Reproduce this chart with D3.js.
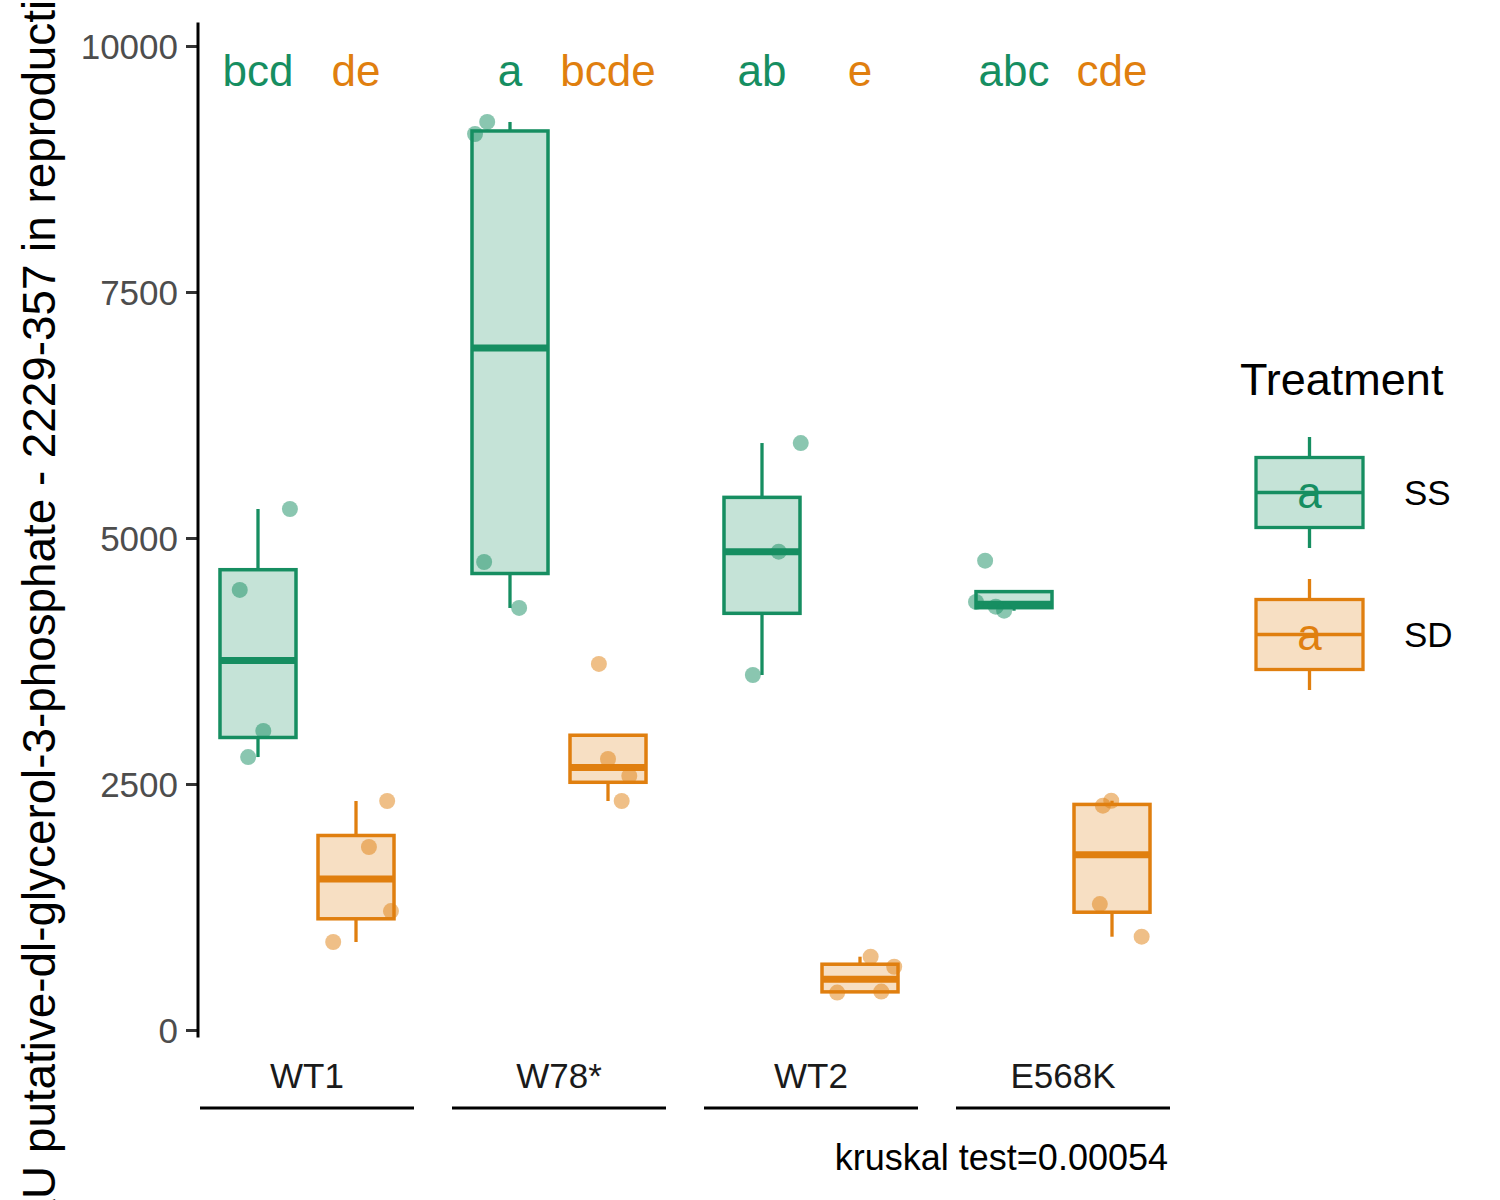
<!DOCTYPE html>
<html><head><meta charset="utf-8">
<script src="https://cdn.jsdelivr.net/npm/d3@7"></script>
<style>body{margin:0;background:#fff} text{font-family:"Liberation Sans",Arial,Helvetica,sans-serif}</style>
</head><body><svg id="c" width="1500" height="1200"></svg>
<script>
// ---- data ----
const groups = ["WT1", "W78*", "WT2", "E568K"];
const treatments = ["SS", "SD"];
const valuesSS = [[5295, 4472, 3039, 2774], [9228, 9106, 4756, 4289], [5965, 4861, 3608], [4770, 4350, 4302, 4261]];
const valuesSD = [[2327, 1860, 1209, 894], [3720, 2754, 2581, 2327], [745, 643, 380, 390], [2330, 2280, 1280, 948]];
const jitterSS = [[0.42, -0.24, 0.07, -0.13], [-0.30, -0.46, -0.34, 0.12], [0.51, 0.22, -0.12], [-0.38, -0.50, -0.24, -0.13]];
const jitterSD = [[0.41, 0.17, 0.46, -0.30], [-0.12, 0.0, 0.28, 0.18], [0.14, 0.45, -0.30, 0.28], [-0.01, -0.12, -0.16, 0.39]];
const lettersSS = ["bcd", "a", "ab", "abc"];
const lettersSD = ["de", "bcde", "e", "cde"];
const letterY = 9750;
const yTicks = [0, 2500, 5000, 7500, 10000];
const yTitle = "AU putative-dl-glycerol-3-phosphate - 2229-357 in reproductive tissue";
const legendTitle = "Treatment";
const caption = "kruskal test=0.00054";

const colors = { SS: "#168E61", SD: "#E07F0F" };
const valuesBy = { SS: valuesSS, SD: valuesSD };
const jitterBy = { SS: jitterSS, SD: jitterSD };
const lettersBy = { SS: lettersSS, SD: lettersSD };

// ---- scales ----
const svg = d3.select("#c");
const xOuter = d3.scaleBand().domain(groups).range([200, 1170]).paddingInner(38 / 252).paddingOuter(0);
const xInner = d3.scaleBand().domain(treatments).range([0, xOuter.bandwidth()]).paddingInner(0.2245).paddingOuter(0.204);
const y = d3.scaleLinear().domain([0, 10000]).range([1030, 46]);
const panelTop = y(10240), panelBottom = y(-75);

// ---- y axis ----
const yAxis = d3.axisLeft(y).tickValues(yTicks).tickSize(12).tickPadding(8).tickFormat(d3.format("d"));
const gy = svg.append("g").attr("transform", "translate(198,0)").call(yAxis);
gy.select(".domain").remove();
gy.selectAll(".tick line").attr("stroke", "#333333").attr("stroke-width", 3);
gy.selectAll(".tick text").attr("fill", "#4D4D4D").attr("font-size", 35).attr("font-family", '"Liberation Sans",Arial,sans-serif').attr("dy", "0.35em");
svg.append("line").attr("x1", 198).attr("x2", 198).attr("y1", panelTop).attr("y2", panelBottom)
  .attr("stroke", "#000").attr("stroke-width", 3);

// y title (rotated), overflowing the figure like the reference
svg.append("text").attr("transform", `translate(55,${(panelTop + panelBottom) / 2 - 5.6}) rotate(-90)`)
  .attr("text-anchor", "middle").attr("font-size", 45.8).attr("fill", "#000").text(yTitle);

// ---- panels ----
groups.forEach((g, gi) => {
  const px = xOuter(g);
  const pg = svg.append("g").attr("transform", `translate(${px},0)`);
  treatments.forEach(t => {
    const vals = valuesBy[t][gi];
    const s = vals.slice().sort(d3.ascending);
    const q1 = d3.quantile(s, 0.25), med = d3.quantile(s, 0.5), q3 = d3.quantile(s, 0.75);
    const iqr = q3 - q1;
    const lo = d3.min(s.filter(v => v >= q1 - 1.5 * iqr));
    const hi = d3.max(s.filter(v => v <= q3 + 1.5 * iqr));
    const bx = xInner(t), bw = xInner.bandwidth(), cx = bx + bw / 2;
    const col = colors[t];
    pg.append("line").attr("x1", cx).attr("x2", cx).attr("y1", y(q3)).attr("y2", y(Math.max(hi, q3)))
      .attr("stroke", col).attr("stroke-width", 3.3);
    pg.append("line").attr("x1", cx).attr("x2", cx).attr("y1", y(q1)).attr("y2", y(Math.min(lo, q1)))
      .attr("stroke", col).attr("stroke-width", 3.3);
    pg.append("rect").attr("x", bx).attr("width", bw).attr("y", y(q3)).attr("height", y(q1) - y(q3))
      .attr("fill", col).attr("fill-opacity", 0.25).attr("stroke", col).attr("stroke-width", 3.5);
    pg.append("line").attr("x1", bx).attr("x2", bx + bw).attr("y1", y(med)).attr("y2", y(med))
      .attr("stroke", col).attr("stroke-width", 7);
    pg.append("text").attr("x", cx).attr("y", y(letterY)).attr("dy", "0.35em").attr("text-anchor", "middle")
      .attr("font-size", 44).attr("fill", col).text(lettersBy[t][gi]);
  });
  treatments.forEach(t => {
    const vals = valuesBy[t][gi], jit = jitterBy[t][gi];
    const bx = xInner(t), bw = xInner.bandwidth(), cx = bx + bw / 2;
    pg.selectAll(null).data(vals).enter().append("circle")
      .attr("cx", (d, i) => cx + jit[i] * bw).attr("cy", d => y(d)).attr("r", 8)
      .attr("fill", colors[t]).attr("fill-opacity", 0.5);
  });
  pg.append("text").attr("x", xOuter.bandwidth() / 2).attr("y", 1088).attr("text-anchor", "middle")
    .attr("font-size", 35).attr("fill", "#1A1A1A").text(g);
  pg.append("line").attr("x1", 0).attr("x2", xOuter.bandwidth()).attr("y1", 1108).attr("y2", 1108)
    .attr("stroke", "#000").attr("stroke-width", 3);
});

svg.append("text").attr("x", 1168).attr("y", 1170).attr("text-anchor", "end").attr("font-size", 36)
  .attr("fill", "#000").text(caption);

// ---- legend ----
const lg = svg.append("g");
lg.append("text").attr("x", 1240).attr("y", 395).attr("font-size", 45).attr("fill", "#000").text(legendTitle);
const keyX = 1256, keyW = 107, keyH = 142, keyTop = 437;
treatments.forEach((t, i) => {
  const top = keyTop + i * keyH, col = colors[t];
  const cx = keyX + keyW / 2, cy = top + 55.5;
  lg.append("line").attr("x1", cx).attr("x2", cx).attr("y1", top).attr("y2", top + 111)
    .attr("stroke", col).attr("stroke-width", 3.3);
  lg.append("rect").attr("x", keyX).attr("y", top + 20.5).attr("width", keyW).attr("height", 70)
    .attr("fill", "#fff");
  lg.append("rect").attr("x", keyX).attr("y", top + 20.5).attr("width", keyW).attr("height", 70)
    .attr("fill", col).attr("fill-opacity", 0.25).attr("stroke", col).attr("stroke-width", 3.3);
  lg.append("line").attr("x1", keyX).attr("x2", keyX + keyW).attr("y1", cy).attr("y2", cy)
    .attr("stroke", col).attr("stroke-width", 3.3);
  lg.append("text").attr("x", cx).attr("y", cy).attr("dy", "0.35em").attr("text-anchor", "middle")
    .attr("font-size", 44).attr("fill", col).text("a");
  lg.append("text").attr("x", 1404).attr("y", cy).attr("dy", "0.35em").attr("font-size", 35)
    .attr("fill", "#000").text(t);
});
</script></body></html>
